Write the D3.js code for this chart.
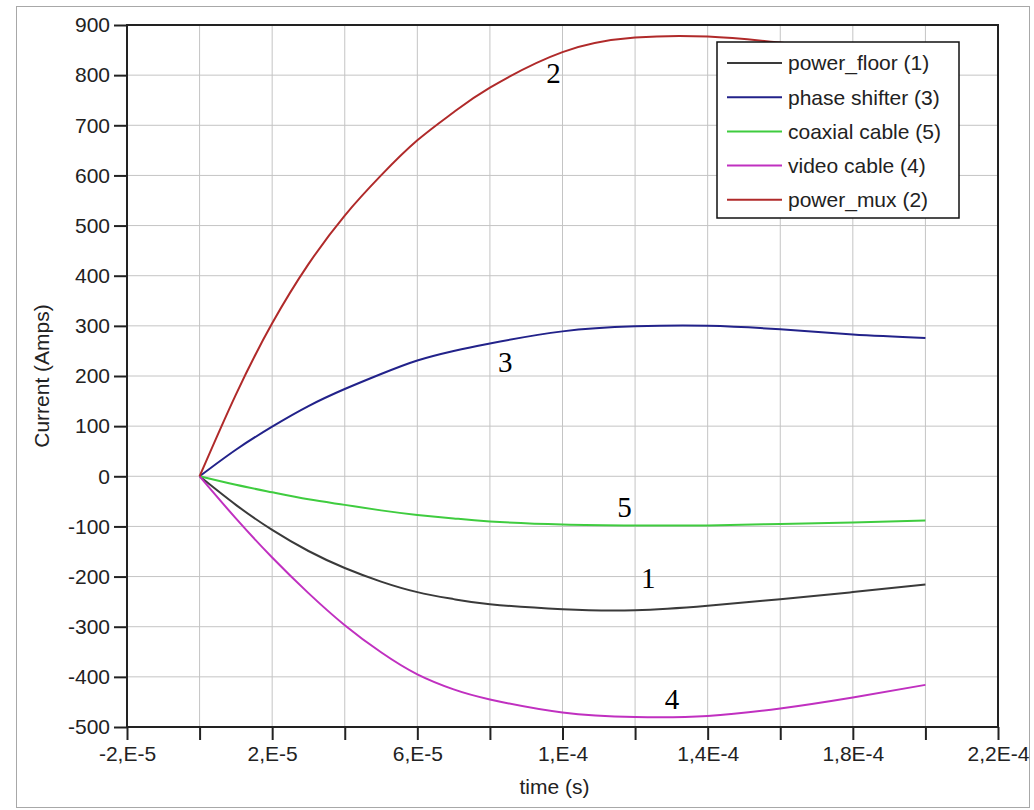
<!DOCTYPE html>
<html>
<head>
<meta charset="utf-8">
<script src="https://cdn.jsdelivr.net/npm/d3@7"></script>
<style>
  body { margin: 0; background: #fff; }
  svg { display: block; font-family: "Liberation Sans", Arial, sans-serif; }
</style>
</head>
<body>
<div id="chart"></div>
<script>
// time samples (s) shared by all series
const times = [0, 1e-5, 2e-5, 3e-5, 4e-5, 5e-5, 6e-5, 7e-5, 8e-5, 1e-4, 1.2e-4, 1.4e-4, 1.6e-4, 1.8e-4, 2e-4];

// current values (Amps)
const powerFloor   = [0, -57, -107, -149, -183, -210, -231, -245, -255, -265, -267, -258, -245, -231, -216];
const phaseShifter = [0, 53, 99, 140, 174, 204, 231, 250, 265, 289, 299, 300, 293, 283, 276];
const coaxialCable = [0, -17, -32, -46, -57, -68, -77, -84, -90, -96, -98, -98, -95, -92, -88];
const videoCable   = [0, -84, -162, -233, -297, -351, -395, -425, -445, -471, -480, -478, -463, -441, -416];
const powerMux     = [0, 163, 305, 423, 520, 600, 670, 726, 775, 846, 875, 877, 865, 848, 825];

const seriesNames  = ['power_floor (1)', 'phase shifter (3)', 'coaxial cable (5)', 'video cable (4)', 'power_mux (2)'];
const seriesColors = ['#3a3a3a', '#22228a', '#3fcc3f', '#c030c0', '#b02a2a'];

// number labels on the curves, in data units
const curveLabels = [
    { text: '2', t: 9.75e-5, v: 785 },
    { text: '3', t: 8.42e-5, v: 207 },
    { text: '5', t: 1.171e-4, v: -82 },
    { text: '1', t: 1.236e-4, v: -222 },
    { text: '4', t: 1.302e-4, v: -464 }
];

// axis ticks
const xTicks = d3.range(-2e-5, 2.21e-4, 2e-5);
const xTickLabels = ['-2,E-5', '', '2,E-5', '', '6,E-5', '', '1,E-4', '', '1,4E-4', '', '1,8E-4', '', '2,2E-4'];
const yTicks = d3.range(-500, 901, 100);

function init() {
    const width = 1034, height = 810;
    const left = 127, right = 998, top = 25, bottom = 727;

    const svg = d3.select('#chart').append('svg')
        .attr('width', width)
        .attr('height', height);

    // outer frame
    svg.append('rect')
        .attr('x', 16.5).attr('y', 6.5)
        .attr('width', 1013).attr('height', 801)
        .attr('fill', '#fff')
        .attr('stroke', '#a8a8a8');

    const x = d3.scaleLinear().domain([-2e-5, 2.2e-4]).range([left, right]);
    const y = d3.scaleLinear().domain([-500, 900]).range([bottom, top]);

    // grid
    svg.append('g').selectAll('line')
        .data(xTicks)
        .enter().append('line')
        .attr('x1', d => x(d)).attr('x2', d => x(d))
        .attr('y1', top).attr('y2', bottom)
        .attr('stroke', '#c4c4c4');
    svg.append('g').selectAll('line')
        .data(yTicks)
        .enter().append('line')
        .attr('x1', left).attr('x2', right)
        .attr('y1', d => y(d)).attr('y2', d => y(d))
        .attr('stroke', '#c4c4c4');

    // axes
    const xAxis = d3.axisBottom(x)
        .tickValues(xTicks)
        .tickSize(13)
        .tickPadding(6)
        .tickFormat((d, i) => xTickLabels[i]);
    const yAxis = d3.axisLeft(y)
        .tickValues(yTicks)
        .tickSize(13)
        .tickPadding(4)
        .tickFormat(d => d);

    const gx = svg.append('g')
        .attr('transform', `translate(0,${bottom})`)
        .call(xAxis);
    const gy = svg.append('g')
        .attr('transform', `translate(${left},0)`)
        .call(yAxis);

    [gx, gy].forEach(g => {
        g.select('.domain').remove();
        g.selectAll('.tick line').attr('stroke', '#222').attr('stroke-width', 2);
        g.selectAll('.tick text')
            .attr('fill', '#222')
            .style('font-size', '21px')
            .style('font-family', '"Liberation Sans", Arial, sans-serif');
    });

    // series lines
    const allSeries = [powerFloor, phaseShifter, coaxialCable, videoCable, powerMux];
    const line = d3.line()
        .x((d, i) => x(times[i]))
        .y(d => y(d))
        .curve(d3.curveNatural);

    svg.append('defs').append('clipPath').attr('id', 'plotClip')
        .append('rect')
        .attr('x', left).attr('y', top)
        .attr('width', right - left).attr('height', bottom - top);

    svg.append('g')
        .attr('clip-path', 'url(#plotClip)')
        .selectAll('path')
        .data(allSeries)
        .enter().append('path')
        .attr('d', line)
        .attr('fill', 'none')
        .attr('stroke', (d, i) => seriesColors[i])
        .attr('stroke-width', 2);

    // plot frame
    svg.append('rect')
        .attr('x', left).attr('y', top)
        .attr('width', right - left).attr('height', bottom - top)
        .attr('fill', 'none')
        .attr('stroke', '#222')
        .attr('stroke-width', 2);

    // curve number labels
    svg.append('g').selectAll('text')
        .data(curveLabels)
        .enter().append('text')
        .attr('x', d => x(d.t))
        .attr('y', d => y(d.v))
        .attr('text-anchor', 'middle')
        .style('font-family', '"Liberation Serif", "Times New Roman", serif')
        .style('font-size', '29px')
        .attr('fill', '#000')
        .text(d => d.text);

    // legend
    const legend = svg.append('g').attr('transform', 'translate(717,42)');
    legend.append('rect')
        .attr('width', 242).attr('height', 176)
        .attr('fill', '#fff')
        .attr('stroke', '#111')
        .attr('stroke-width', 1.5);

    const entries = legend.selectAll('.legend-entry')
        .data(seriesNames)
        .enter().append('g')
        .attr('class', 'legend-entry')
        .attr('transform', (d, i) => `translate(0,${21 + i * 34.2})`);

    entries.append('line')
        .attr('x1', 10).attr('x2', 65)
        .attr('stroke', (d, i) => seriesColors[i])
        .attr('stroke-width', 2);

    entries.append('text')
        .attr('x', 71)
        .attr('dy', '0.35em')
        .style('font-size', '21px')
        .attr('fill', '#222')
        .text(d => d);

    // axis titles
    svg.append('text')
        .attr('x', x(1e-4) - 8)
        .attr('y', 794)
        .attr('text-anchor', 'middle')
        .style('font-size', '21px')
        .attr('fill', '#222')
        .text('time (s)');

    svg.append('text')
        .attr('transform', `translate(49,${(top + bottom) / 2}) rotate(-90)`)
        .attr('text-anchor', 'middle')
        .style('font-size', '21px')
        .attr('fill', '#222')
        .text('Current (Amps)');
}

window.onload = init;
</script>
</body>
</html>
